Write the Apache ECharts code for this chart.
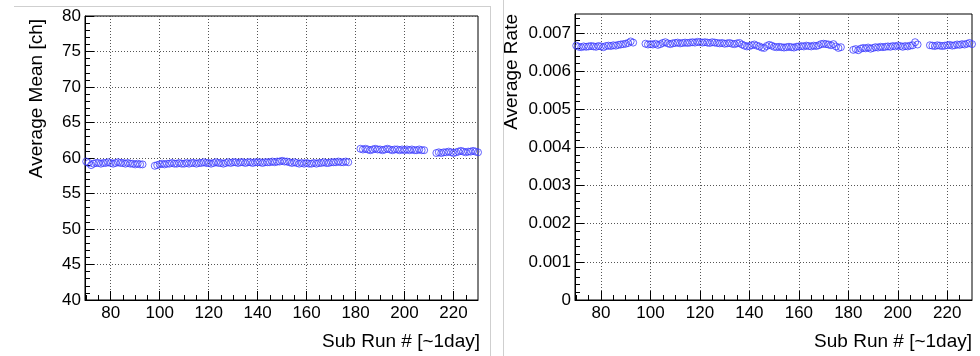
<!DOCTYPE html>
<html>
<head>
<meta charset="utf-8">
<script src="https://cdn.jsdelivr.net/npm/echarts@6/dist/echarts.min.js"></script>
<style>
html,body{margin:0;padding:0;background:#fff;}
#chart{width:980px;height:356px;}
</style>
</head>
<body>
<div id="chart"></div>
<script>
// ---- data ----
const subRuns = [
  70,71,72,73,74,75,76,77,78,79,80,81,82,83,84,85,86,87,88,89,90,91,92,93,
  98,99,100,101,102,103,104,105,106,107,108,109,110,111,112,113,114,115,116,117,118,119,120,121,122,123,124,125,126,127,128,129,130,131,132,133,134,135,136,137,138,139,140,141,142,143,144,145,146,147,148,149,150,151,152,153,154,155,156,157,158,159,160,161,162,163,164,165,166,167,168,169,170,171,172,173,174,175,176,177,
  182,183,184,185,186,187,188,189,190,191,192,193,194,195,196,197,198,199,200,201,202,203,204,205,206,207,208,
  213,214,215,216,217,218,219,220,221,222,223,224,225,226,227,228,229,230
];
const averageMean = [
  59.5,59.3,59.0,59.2,59.3,59.3,59.2,59.3,59.3,59.4,59.3,59.2,59.3,59.4,59.3,59.3,59.2,59.3,59.2,59.2,59.1,59.2,59.1,59.1,
  58.9,59.0,59.1,59.2,59.1,59.2,59.2,59.3,59.2,59.2,59.3,59.2,59.2,59.3,59.2,59.3,59.3,59.2,59.3,59.3,59.4,59.3,59.3,59.2,59.3,59.4,59.3,59.3,59.2,59.3,59.4,59.3,59.4,59.4,59.3,59.4,59.4,59.3,59.4,59.4,59.3,59.4,59.4,59.4,59.3,59.4,59.4,59.4,59.5,59.4,59.5,59.5,59.6,59.5,59.5,59.4,59.3,59.4,59.3,59.2,59.3,59.2,59.3,59.2,59.2,59.3,59.2,59.3,59.3,59.4,59.3,59.3,59.4,59.4,59.4,59.5,59.4,59.4,59.5,59.4,
  61.3,61.2,61.3,61.2,61.1,61.2,61.3,61.2,61.2,61.1,61.2,61.3,61.2,61.1,61.2,61.2,61.1,61.2,61.1,61.2,61.1,61.2,61.1,61.1,61.2,61.1,61.1,
  60.7,60.8,60.7,60.8,60.8,60.9,60.8,60.7,60.8,60.9,61.0,60.9,60.8,60.9,60.9,61.0,60.9,60.8
];
const averageRate = [
  0.00667,0.00664,0.00663,0.00665,0.00664,0.00665,0.00666,0.00665,0.00664,0.00666,0.00665,0.00663,0.00666,0.00667,0.00666,0.00668,0.00667,0.00669,0.00670,0.00671,0.00672,0.00674,0.00678,0.00675,
  0.00672,0.00670,0.00671,0.00670,0.00672,0.00669,0.00671,0.00674,0.00676,0.00673,0.00671,0.00673,0.00674,0.00675,0.00673,0.00674,0.00675,0.00674,0.00675,0.00676,0.00675,0.00677,0.00676,0.00675,0.00676,0.00675,0.00674,0.00676,0.00675,0.00674,0.00673,0.00674,0.00672,0.00673,0.00674,0.00672,0.00671,0.00673,0.00674,0.00670,0.00667,0.00665,0.00666,0.00668,0.00670,0.00667,0.00665,0.00662,0.00661,0.00666,0.00669,0.00667,0.00664,0.00663,0.00664,0.00663,0.00662,0.00663,0.00664,0.00663,0.00662,0.00664,0.00665,0.00666,0.00665,0.00667,0.00666,0.00665,0.00667,0.00666,0.00668,0.00671,0.00672,0.00671,0.00670,0.00668,0.00671,0.00665,0.00661,0.00663,
  0.00656,0.00658,0.00655,0.00659,0.00661,0.00660,0.00662,0.00659,0.00661,0.00663,0.00662,0.00664,0.00663,0.00664,0.00665,0.00664,0.00666,0.00665,0.00667,0.00666,0.00664,0.00666,0.00665,0.00667,0.00668,0.00676,0.00670,
  0.00668,0.00667,0.00666,0.00668,0.00667,0.00666,0.00667,0.00668,0.00669,0.00667,0.00668,0.00670,0.00669,0.00671,0.00670,0.00672,0.00674,0.00671
];
const xMajorTicks = [80,100,120,140,160,180,200,220];
const xMinorTicks = [70,75,85,90,95,105,110,115,125,130,135,145,150,155,165,170,175,185,190,195,205,210,215,225];
const meanTicks = [40,45,50,55,60,65,70,75,80];
const rateTicks = [0,0.001,0.002,0.003,0.004,0.005,0.006,0.007];
const rateMinorTicks = [0.0002,0.0004,0.0006,0.0008,0.0012,0.0014,0.0016,0.0018,0.0022,0.0024,0.0026,0.0028,0.0032,0.0034,0.0036,0.0038,0.0042,0.0044,0.0046,0.0048,0.0052,0.0054,0.0056,0.0058,0.0062,0.0064,0.0066,0.0068,0.0072,0.0074];

// ---- chart ----
const FONT = "'Liberation Sans', Arial, sans-serif";
const chart = echarts.init(document.getElementById('chart'), null, {renderer:'canvas'});
const gridLine = {show:true, lineStyle:{color:'#555', type:[1,2], width:1}};
const MARK = '#3c3cff';

function xMajor(g){
  return {type:'value', gridIndex:g, min:69.5, max:230, position:'bottom',
    axisLine:{show:true, onZero:false, lineStyle:{color:'#000', width:1}},
    axisTick:{show:true, inside:true, length:9, customValues:xMajorTicks, lineStyle:{color:'#000'}},
    axisLabel:{show:true, customValues:xMajorTicks, color:'#000', fontSize:17, fontFamily:FONT, margin:5},
    splitLine:gridLine, minorTick:{show:false}};
}
function xMinor(g){
  return {type:'value', gridIndex:g, min:69.5, max:230, position:'bottom',
    axisLine:{show:false, onZero:false},
    axisTick:{show:true, inside:true, length:5, customValues:xMinorTicks, lineStyle:{color:'#000'}},
    axisLabel:{show:false}, splitLine:{show:false}};
}

const option = {
  animation:false,
  backgroundColor:'#fff',
  grid:[
    {left:85, top:16, width:393, height:284, show:true, borderColor:'#000', borderWidth:1, backgroundColor:'rgba(0,0,0,0)'},
    {left:575, top:14, width:397, height:286, show:true, borderColor:'#000', borderWidth:1, backgroundColor:'rgba(0,0,0,0)'}
  ],
  xAxis:[xMajor(0), xMinor(0), xMajor(1), xMinor(1)],
  yAxis:[
    {type:'value', gridIndex:0, min:40, max:80, interval:5, position:'left',
      axisLine:{show:true, onZero:false, lineStyle:{color:'#000'}},
      axisTick:{show:true, inside:true, length:9, lineStyle:{color:'#000'}},
      minorTick:{show:true, splitNumber:5, length:5, lineStyle:{color:'#000'}},
      axisLabel:{color:'#000', fontSize:17, fontFamily:FONT, margin:4},
      splitLine:gridLine},
    {type:'value', gridIndex:0, min:40, max:80, position:'left', show:false},
    {type:'value', gridIndex:1, min:0, max:0.0075, position:'left',
      axisLine:{show:true, onZero:false, lineStyle:{color:'#000'}},
      axisTick:{show:true, inside:true, length:9, customValues:rateTicks, lineStyle:{color:'#000'}},
      axisLabel:{customValues:rateTicks, color:'#000', fontSize:17, fontFamily:FONT, margin:4,
        formatter:v => (v === 0 ? '0' : v.toFixed(3))},
      splitLine:gridLine},
    {type:'value', gridIndex:1, min:0, max:0.0075, position:'left',
      axisLine:{show:false, onZero:false},
      axisTick:{show:true, inside:true, length:5, customValues:rateMinorTicks, lineStyle:{color:'#000'}},
      axisLabel:{show:false}, splitLine:{show:false}}
  ],
  series:[
    {type:'scatter', xAxisIndex:0, yAxisIndex:0, symbol:'circle', symbolSize:7,
      data: subRuns.map((r,i)=>[r, averageMean[i]]),
      itemStyle:{color:'rgba(255,255,255,0)', borderColor:MARK, borderWidth:1},
      emphasis:{disabled:true}, silent:true},
    {type:'scatter', xAxisIndex:2, yAxisIndex:2, symbol:'circle', symbolSize:7,
      data: subRuns.map((r,i)=>[r, averageRate[i]]),
      itemStyle:{color:'rgba(255,255,255,0)', borderColor:MARK, borderWidth:1},
      emphasis:{disabled:true}, silent:true}
  ],
  graphic:[
    {type:'line', shape:{x1:14, y1:6.5, x2:490, y2:6.5}, style:{stroke:'#cfcfcf', lineWidth:1}, silent:true},
    {type:'line', shape:{x1:490.5, y1:6, x2:490.5, y2:356}, style:{stroke:'#cfcfcf', lineWidth:1}, silent:true},
    {type:'line', shape:{x1:503.5, y1:0, x2:503.5, y2:356}, style:{stroke:'#cfcfcf', lineWidth:1}, silent:true},
    {type:'text', x:37, y:19, rotation:Math.PI/2,
      style:{text:'Average Mean [ch]', font:'19px ' + FONT, fill:'#000', textAlign:'right', textVerticalAlign:'middle', align:'right', verticalAlign:'middle'}},
    {type:'text', x:512, y:14, rotation:Math.PI/2,
      style:{text:'Average Rate', font:'19px ' + FONT, fill:'#000', textAlign:'right', textVerticalAlign:'middle', align:'right', verticalAlign:'middle'}},
    {type:'text', x:480, y:342,
      style:{text:'Sub Run # [~1day]', font:'19px ' + FONT, fill:'#000', textAlign:'right', textVerticalAlign:'middle', align:'right', verticalAlign:'middle'}},
    {type:'text', x:972, y:342,
      style:{text:'Sub Run # [~1day]', font:'19px ' + FONT, fill:'#000', textAlign:'right', textVerticalAlign:'middle', align:'right', verticalAlign:'middle'}}
  ]
};
chart.setOption(option);
</script>
</body>
</html>
